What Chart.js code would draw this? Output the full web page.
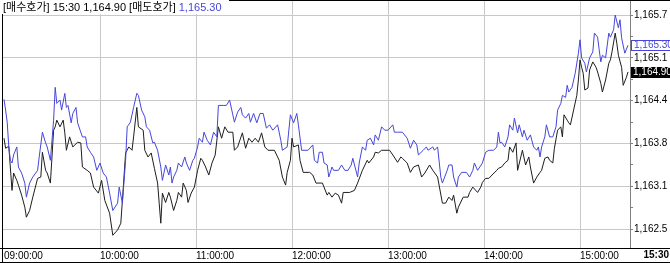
<!DOCTYPE html>
<html>
<head>
<meta charset="utf-8">
<script src="https://cdn.jsdelivr.net/npm/chart.js@4.4.1/dist/chart.umd.min.js"></script>
<style>
  html, body { margin: 0; padding: 0; background: #fff; }
  #wrap { width: 670px; height: 263px; position: relative; }
</style>
</head>
<body>
<div id="wrap"><canvas id="quote-chart"></canvas></div>
<script>
// Times are minutes after 09:00
const askTimes = [
  0, 1, 2, 3, 4, 5, 6, 8, 9, 11,
  13, 14, 16, 18, 21, 22, 24, 26, 27, 29,
  31, 32, 33, 35, 36, 38, 39, 40, 42, 43,
  45, 46, 49, 51, 52, 54, 56, 58, 60, 62,
  64, 66, 68, 71, 72, 74, 76, 77, 79, 81,
  83, 84, 86, 88, 89, 91, 93, 94, 96, 98,
  99, 101, 103, 104, 105, 106, 108, 109, 111, 113,
  114, 116, 118, 119, 121, 122, 124, 125, 127, 129,
  131, 133, 134, 137, 139, 141, 143, 144, 146, 148,
  149, 151, 153, 154, 156, 158, 160, 162, 164, 166,
  168, 171, 173, 174, 177, 179, 181, 183, 184, 186,
  190, 193, 194, 196, 197, 199, 200, 202, 203, 205,
  206, 209, 211, 213, 215, 217, 218, 221, 222, 224,
  226, 227, 229, 231, 232, 234, 236, 238, 240, 243,
  244, 246, 249, 252, 254, 256, 258, 259, 262, 264,
  265, 268, 269, 271, 273, 274, 277, 278, 280, 281,
  283, 284, 286, 289, 291, 293, 294, 296, 299, 301,
  303, 306, 308, 309, 310, 311, 313, 315, 316, 318,
  319, 321, 322, 324, 325, 327, 329, 331, 333, 334,
  335, 336, 338, 339, 341, 343, 345, 346, 348, 349,
  351, 352, 353, 355, 357, 359, 360, 361, 363, 364,
  366, 368, 369, 371, 372, 373, 374, 376, 378, 379,
  381, 382, 384, 385, 386, 388, 390
];
const askValues = [
  1164.49, 1164.33, 1164.15, 1163.78, 1163.58, 1163.54, 1163.66, 1163.78, 1163.48, 1163.39,
  1163.24, 1163.03, 1163.24, 1163.33, 1163.43, 1163.63, 1164.00, 1163.84, 1163.78, 1163.58,
  1164.18, 1164.67, 1164.43, 1164.48, 1164.33, 1164.58, 1164.37, 1164.40, 1164.14, 1164.28,
  1164.37, 1164.14, 1163.93, 1163.93, 1163.78, 1163.70, 1163.63, 1163.43, 1163.54, 1163.39,
  1163.33, 1163.09, 1162.83, 1162.94, 1163.18, 1162.94, 1163.58, 1164.08, 1164.15, 1164.37,
  1164.58, 1164.55, 1164.33, 1164.23, 1164.08, 1164.03, 1163.84, 1163.85, 1163.73, 1163.48,
  1163.28, 1163.51, 1163.36, 1163.48, 1163.24, 1163.33, 1163.43, 1163.54, 1163.48, 1163.63,
  1163.54, 1163.43, 1163.58, 1163.61, 1163.78, 1163.91, 1163.85, 1164.00, 1163.88, 1163.81,
  1164.00, 1163.93, 1164.40, 1164.40, 1164.40, 1164.48, 1164.26, 1164.15, 1164.30, 1164.37,
  1164.26, 1164.21, 1164.28, 1164.15, 1164.28, 1164.14, 1164.28, 1164.28, 1164.06, 1164.11,
  1164.03, 1164.11, 1163.88, 1163.73, 1163.78, 1164.26, 1164.14, 1164.28, 1164.11, 1163.73,
  1163.73, 1163.81, 1163.58, 1163.54, 1163.70, 1163.70, 1163.54, 1163.51, 1163.33, 1163.48,
  1163.43, 1163.43, 1163.51, 1163.43, 1163.43, 1163.51, 1163.61, 1163.33, 1163.54, 1163.78,
  1163.73, 1163.88, 1163.91, 1163.81, 1163.96, 1163.88, 1164.08, 1164.03, 1164.03, 1164.11,
  1164.00, 1164.00, 1164.00, 1163.91, 1163.76, 1163.88, 1163.81, 1163.66, 1163.73, 1163.78,
  1163.73, 1163.78, 1163.73, 1163.78, 1163.33, 1163.24, 1163.43, 1163.51, 1163.51, 1163.33,
  1163.18, 1163.33, 1163.40, 1163.40, 1163.33, 1163.43, 1163.54, 1163.43, 1163.54, 1163.70,
  1163.73, 1163.73, 1163.78, 1164.00, 1163.84, 1163.85, 1163.78, 1163.93, 1164.11, 1164.03,
  1164.21, 1163.99, 1164.11, 1163.93, 1164.03, 1163.88, 1163.96, 1163.78, 1163.73, 1163.78,
  1163.63, 1163.78, 1163.93, 1164.11, 1163.93, 1163.93, 1164.08, 1164.33, 1164.43, 1164.55,
  1164.52, 1164.70, 1164.60, 1164.67, 1164.88, 1165.18, 1165.38, 1165.11, 1165.03, 1164.90,
  1165.11, 1165.20, 1165.48, 1165.42, 1165.23, 1165.05, 1165.15, 1165.11, 1165.48, 1165.42,
  1165.53, 1165.75, 1165.56, 1165.68, 1165.41, 1165.18, 1165.30
];

const bidTimes = [
  0, 1, 3, 5, 6, 8, 9, 11, 13, 14,
  16, 18, 21, 23, 24, 26, 27, 29, 31, 32,
  33, 35, 37, 38, 39, 41, 43, 46, 48, 49,
  52, 54, 56, 59, 61, 63, 66, 68, 71, 73,
  74, 76, 78, 80, 81, 83, 84, 87, 88, 90,
  92, 94, 96, 97, 98, 99, 101, 103, 104, 106,
  108, 109, 111, 112, 114, 115, 117, 119, 121, 123,
  124, 126, 128, 130, 132, 134, 136, 138, 140, 143,
  144, 146, 149, 151, 153, 155, 157, 159, 161, 163,
  165, 169, 172, 174, 176, 177, 179, 180, 181, 184,
  185, 187, 191, 193, 195, 199, 202, 203, 205, 207,
  209, 211, 212, 216, 219, 221, 224, 227, 228, 231,
  232, 234, 236, 241, 243, 246, 248, 249, 252, 254,
  256, 259, 261, 263, 266, 268, 271, 274, 276, 278,
  280, 281, 283, 284, 287, 290, 291, 293, 296, 298,
  299, 301, 303, 305, 308, 309, 311, 313, 315, 316,
  318, 320, 321, 323, 324, 326, 328, 329, 331, 333,
  335, 336, 338, 340, 341, 343, 344, 346, 348, 349,
  350, 352, 353, 354, 356, 358, 359, 360, 361, 362,
  363, 365, 366, 368, 370, 371, 373, 374, 376, 378,
  379, 380, 382, 383, 384, 386, 387, 389, 390
];
const bidValues = [
  1163.91, 1163.76, 1163.79, 1163.13, 1163.39, 1163.28, 1163.21, 1163.06, 1162.88, 1162.73,
  1162.83, 1163.03, 1163.31, 1163.33, 1163.70, 1163.43, 1163.39, 1163.24, 1164.03, 1164.08,
  1164.18, 1164.08, 1164.18, 1163.99, 1163.73, 1163.93, 1163.78, 1163.85, 1163.84, 1163.48,
  1163.43, 1163.39, 1163.18, 1163.09, 1163.28, 1162.98, 1162.79, 1162.46, 1162.54, 1162.64,
  1162.98, 1163.69, 1163.78, 1163.73, 1163.93, 1164.37, 1164.08, 1164.03, 1163.73, 1163.63,
  1163.69, 1163.46, 1163.24, 1162.94, 1162.64, 1163.09, 1162.95, 1163.10, 1163.03, 1162.83,
  1162.98, 1163.10, 1163.03, 1163.24, 1163.13, 1162.95, 1163.09, 1163.18, 1163.43, 1163.61,
  1163.58, 1163.48, 1163.36, 1163.54, 1163.66, 1164.08, 1163.91, 1164.08, 1164.00, 1164.00,
  1163.73, 1163.78, 1163.99, 1163.76, 1163.91, 1163.85, 1163.91, 1163.85, 1163.99, 1163.78,
  1163.73, 1163.73, 1163.58, 1163.33, 1163.21, 1163.40, 1163.58, 1163.91, 1163.78, 1163.81,
  1163.58, 1163.40, 1163.40, 1163.36, 1163.24, 1163.24, 1163.06, 1163.10, 1163.03, 1163.09,
  1163.06, 1162.94, 1163.10, 1163.10, 1163.13, 1163.24, 1163.43, 1163.58, 1163.54, 1163.63,
  1163.70, 1163.69, 1163.73, 1163.73, 1163.66, 1163.55, 1163.63, 1163.61, 1163.54, 1163.40,
  1163.48, 1163.51, 1163.33, 1163.39, 1163.51, 1163.43, 1163.33, 1162.94, 1162.94, 1163.03,
  1162.98, 1163.06, 1162.79, 1162.88, 1163.03, 1163.03, 1163.10, 1163.18, 1163.10, 1163.18,
  1163.25, 1163.31, 1163.31, 1163.36, 1163.43, 1163.46, 1163.48, 1163.54, 1163.58, 1163.78,
  1163.70, 1163.84, 1163.43, 1163.63, 1163.73, 1163.51, 1163.63, 1163.48, 1163.24, 1163.33,
  1163.40, 1163.43, 1163.61, 1163.63, 1163.58, 1163.54, 1163.76, 1164.03, 1164.08, 1163.93,
  1164.26, 1164.18, 1164.14, 1164.11, 1164.33, 1164.55, 1164.78, 1165.08, 1164.97, 1164.88,
  1164.63, 1164.66, 1164.93, 1165.05, 1164.97, 1164.90, 1164.73, 1164.60, 1164.78, 1165.03,
  1165.08, 1165.20, 1165.48, 1165.33, 1165.15, 1164.97, 1164.70, 1164.82, 1164.90
];

// Axis ticks
const yTickValues = [1162.55, 1163.19, 1163.83, 1164.47, 1165.11, 1165.75];
const yTickLabels = ["1,162.5", "1,163.1", "1,163.8", "1,164.4", "1,165.1", "1,165.7"];
const xTickValues = [0, 60, 120, 180, 240, 300, 360];
const xTickLabels = ["09:00:00", "10:00:00", "11:00:00", "12:00:00", "13:00:00", "14:00:00", "15:00:00"];
const closeLabel = "15:30";
const bidName = "[매수호가]";
const askName = "[매도호가]";

const BLUE = "#4646dc";
const LINE_BLACK = "#1e1e1e";
const GRID = "#c8c8c8";
const AXIS = "#808080";
const FONT = '"Liberation Sans", Arial, sans-serif';
const NONE = "rgba(0,0,0,0)";

function toPoints(times, values) {
  return times.map((t, i) => ({ x: t, y: values[i] }));
}

function fmt(v) {
  return v.toLocaleString("en-US", { minimumFractionDigits: 2, maximumFractionDigits: 2 });
}

const lastAsk = askValues[askValues.length - 1];
const lastBid = bidValues[bidValues.length - 1];

// frame, last-value boxes and header drawn on top of the chart
const framePlugin = {
  id: "frame",
  beforeDraw(chart) {
    const c = chart.ctx;
    c.save();
    c.fillStyle = "#fff";
    c.fillRect(0, 0, chart.width, chart.height);
    c.restore();
  },
  afterDraw(chart) {
    const c = chart.ctx;
    const area = chart.chartArea;
    const yScale = chart.scales.y;
    const W = chart.width, H = chart.height;
    c.save();

    c.strokeStyle = "#000";
    c.lineWidth = 1;
    c.beginPath();
    c.moveTo(2.5, 0); c.lineTo(2.5, H);
    c.moveTo(0, 0.5); c.lineTo(W, 0.5);
    const by = Math.round(area.bottom) + 0.5;
    c.moveTo(0, by); c.lineTo(W, by);
    c.moveTo(0, H - 0.5); c.lineTo(W, H - 0.5);
    c.stroke();

    c.font = "10px " + FONT;
    c.textBaseline = "middle";
    c.textAlign = "left";

    // ask box
    let yp = Math.round(yScale.getPixelForValue(lastAsk));
    c.fillStyle = "#fff";
    c.fillRect(631, yp - 5, 45, 10);
    c.strokeStyle = BLUE;
    c.strokeRect(631.5, yp - 4.5, 45, 10);
    c.fillStyle = BLUE;
    c.fillText(fmt(lastAsk), 634, yp + 0.5);

    // bid box
    yp = Math.round(yScale.getPixelForValue(lastBid));
    c.fillStyle = "#000";
    c.fillRect(631, yp - 5, 45, 11);
    c.fillStyle = "#fff";
    c.fillText(fmt(lastBid), 633, yp + 0.5);

    // close time label
    c.fillStyle = "#000";
    c.font = "bold 10px " + FONT;
    c.textAlign = "right";
    c.fillText(closeLabel, W - 1, by + 7);

    // header
    c.fillStyle = "#fff";
    c.fillRect(0, 0, 229, 14);
    c.font = '11px "Liberation Sans", "Noto Sans CJK KR", sans-serif';
    c.textAlign = "left";
    const head = bidName + " " + closeLabel + " " + fmt(lastBid) + " " + askName + " ";
    c.fillStyle = "#000";
    c.fillText(head, 3, 7.5);
    c.fillStyle = BLUE;
    c.fillText(fmt(lastAsk), 3 + c.measureText(head).width, 7.5);

    c.restore();
  }
};

const ctx = document.getElementById("quote-chart").getContext("2d");
const quoteChart = new Chart(ctx, {
  type: "line",
  data: {
    datasets: [
      {
        label: askName,
        data: toPoints(askTimes, askValues),
        borderColor: BLUE,
        borderWidth: 1,
        pointRadius: 0,
        tension: 0,
        fill: false,
      },
      {
        label: bidName,
        data: toPoints(bidTimes, bidValues),
        borderColor: LINE_BLACK,
        borderWidth: 1,
        pointRadius: 0,
        tension: 0,
        fill: false,
      },
    ],
  },
  options: {
    responsive: true,
    maintainAspectRatio: false,
    animation: false,
    layout: { padding: { left: 2, top: 1, right: 0, bottom: 0 } },
    plugins: {
      legend: { display: false },
      tooltip: { enabled: false },
    },
    scales: {
      x: {
        type: "linear",
        min: -1.25,
        max: 391.25,
        afterBuildTicks: (scale) => {
          scale.ticks = xTickValues.map((v) => ({ value: v }));
        },
        afterFit: (scale) => {
          scale.height = 15;
          scale.paddingLeft = 0;
          scale.paddingRight = 0;
        },
        grid: {
          color: (c) => (c.tick && c.tick.value === 0 ? NONE : GRID),
          borderDash: [2, 2],
          drawTicks: false,
        },
        border: { display: false },
        ticks: {
          align: "start",
          padding: 2,
          autoSkip: false,
          maxRotation: 0,
          color: "#000",
          font: { family: FONT, size: 10 },
          callback: (v) => xTickLabels[xTickValues.indexOf(v)],
        },
      },
      y: {
        position: "right",
        min: 1162.27,
        max: 1165.96,
        afterBuildTicks: (scale) => {
          const ticks = [];
          yTickValues.forEach((v, i) => {
            ticks.push({ value: v });
            if (i < yTickValues.length - 1) {
              ticks.push({ value: (v + yTickValues[i + 1]) / 2, minor: true });
            }
          });
          scale.ticks = ticks;
        },
        afterFit: (scale) => {
          scale.width = 40;
          scale.paddingTop = 0;
          scale.paddingBottom = 0;
        },
        grid: {
          color: (c) => (c.tick && c.tick.minor ? NONE : GRID),
          borderDash: [2, 2],
          tickLength: 3,
          tickColor: AXIS,
          tickBorderDash: [],
        },
        border: { display: true, color: AXIS, width: 1 },
        ticks: {
          padding: 1,
          autoSkip: false,
          color: "#000",
          font: { family: FONT, size: 10 },
          callback: (v, i, ticks) => (ticks[i].minor ? "" : yTickLabels[yTickValues.indexOf(v)]),
        },
      },
    },
  },
  plugins: [framePlugin],
});
</script>
</body>
</html>
